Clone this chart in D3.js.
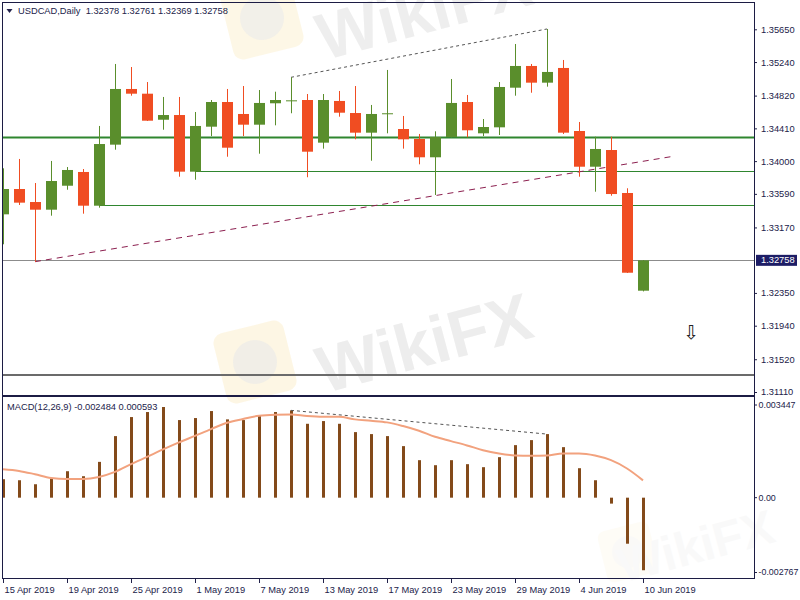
<!DOCTYPE html>
<html>
<head>
<meta charset="utf-8">
<script src="https://cdn.jsdelivr.net/npm/d3@7"></script>
<style>
  body { margin: 0; background: #fff; }
  svg { display: block; }
  text { font-family: "Liberation Sans", Tahoma, Arial, sans-serif; font-size: 9.3px; fill: #22224a; }
</style>
</head>
<body>
<div id="chart"></div>
<script>
// ---- data ----
var dates = ["15 Apr 2019","16 Apr 2019","17 Apr 2019","18 Apr 2019","19 Apr 2019","22 Apr 2019","23 Apr 2019",
  "24 Apr 2019","25 Apr 2019","26 Apr 2019","29 Apr 2019","30 Apr 2019","1 May 2019","2 May 2019","3 May 2019",
  "6 May 2019","7 May 2019","8 May 2019","9 May 2019","10 May 2019","13 May 2019","14 May 2019","15 May 2019",
  "16 May 2019","17 May 2019","20 May 2019","21 May 2019","22 May 2019","23 May 2019","24 May 2019","27 May 2019",
  "28 May 2019","29 May 2019","30 May 2019","31 May 2019","3 Jun 2019","4 Jun 2019","5 Jun 2019","6 Jun 2019",
  "7 Jun 2019","10 Jun 2019"];
var opens  = [1.33334,1.33651,1.33488,1.33392,1.33692,1.33864,1.33442,1.34206,1.34903,1.34844,1.34518,1.34577,1.33868,1.34431,
  1.34740,1.34590,1.34456,1.34724,1.34759,1.34765,1.34231,1.34753,1.34602,1.34356,1.34596,1.34402,1.34277,1.34048,
  1.34302,1.34740,1.34348,1.34423,1.34919,1.35191,1.34982,1.35166,1.34377,1.33930,1.34139,1.33601,1.32378];
var highs  = [1.33910,1.34027,1.33726,1.34002,1.33926,1.33901,1.34440,1.35216,1.35178,1.34990,1.34803,1.34803,1.34615,1.34765,
  1.34903,1.34940,1.34890,1.34869,1.35049,1.34840,1.34840,1.34878,1.34940,1.34703,1.35141,1.34565,1.34340,1.34373,
  1.35028,1.34828,1.34527,1.34990,1.35466,1.35216,1.35654,1.35266,1.34490,1.34306,1.34306,1.33660,1.32761];
var lows   = [1.32959,1.33451,1.32741,1.33317,1.33642,1.33342,1.33417,1.34143,1.34819,1.34502,1.34393,1.33805,1.33767,1.34314,
  1.34055,1.34314,1.34093,1.34448,1.34599,1.33798,1.34156,1.34556,1.34273,1.34005,1.34348,1.34156,1.33960,1.33576,
  1.34296,1.34298,1.34314,1.34327,1.34819,1.34856,1.34932,1.34340,1.33805,1.33617,1.33567,1.32600,1.32369];
var closes = [1.33651,1.33480,1.33392,1.33751,1.33889,1.33442,1.34214,1.34903,1.34844,1.34506,1.34577,1.33868,1.34440,1.34740,
  1.34168,1.34456,1.34728,1.34765,1.34761,1.34118,1.34765,1.34606,1.34356,1.34590,1.34599,1.34273,1.34048,1.34302,
  1.34728,1.34386,1.34427,1.34928,1.35191,1.34982,1.35116,1.34356,1.33930,1.34152,1.33588,1.32603,1.32758];

var macdHist = [0.000632,0.000597,0.000460,0.000656,0.000906,0.000735,0.001226,0.002108,0.002760,0.002932,0.003104,0.002657,
  0.002726,0.002966,0.002681,0.002657,0.002795,0.002932,0.002990,0.002530,0.002623,0.002530,0.002245,0.002177,0.002108,
  0.001765,0.001284,0.001112,0.001284,0.001147,0.001044,0.001387,0.001799,0.001971,0.002177,0.001730,0.001009,0.000597,
  -0.000203,-0.001576,-0.002484];
var macdSignal = [0.000975,0.000917,0.000803,0.000676,0.000642,0.000642,0.000711,0.000882,0.001147,0.001397,0.001651,0.001892,
  0.002118,0.002348,0.002565,0.002692,0.002805,0.002839,0.002846,0.002795,0.002771,0.002771,0.002681,0.002633,0.002578,
  0.002451,0.002290,0.002084,0.001936,0.001789,0.001627,0.001514,0.001445,0.001432,0.001445,0.001514,0.001514,0.001445,
  0.001284,0.000999,0.000593];

var priceTicks = [1.35650,1.35240,1.34820,1.34410,1.34000,1.33590,1.33170,1.32350,1.31940,1.31520,1.31110];
var macdTicks = [0.003447, 0, -0.002767];
var dateTickBars = [0,4,8,12,16,20,24,28,32,36,40];

// drawn objects on the price chart
var levelPrices = [1.34302, 1.33876, 1.33451];   // horizontal green levels
var levelStartBars = [null, 12, 6];              // null = whole width
var currentPrice = 1.32758;
var lowerLinePrice = 1.31323;
var trendStart = [2, 1.32741], trendEnd = [42, 1.34064];
var peakBars = [18, 34];
var arrowAt = [43, 1.31861];

// ---- layout ----
var W = 800, H = 600;
var left = 3, right = 754, mainTop = 3, mainBottom = 395, macdTop = 397, macdBottom = 579;

var svg = d3.select("#chart").append("svg").attr("width", W).attr("height", H);

var x = d3.scaleLinear().domain([0, 40]).range([3, 643]);
var y = d3.scaleLinear().domain([1.31110, 1.35650]).range([392, 29.3]);
var ym = d3.scaleLinear().domain([-0.002767, 0.003447]).range([578.5, 397]);

var defs = svg.append("defs");
defs.append("clipPath").attr("id", "clipMain").append("rect")
  .attr("x", left).attr("y", mainTop).attr("width", right - left).attr("height", mainBottom - mainTop);
defs.append("clipPath").attr("id", "clipMacd").append("rect")
  .attr("x", left).attr("y", macdTop).attr("width", right - left).attr("height", macdBottom - macdTop);

// faint watermarks
function watermark(cx, cy, lx, ly, size, op) {
  var g = svg.append("g").attr("opacity", op);
  var s = size / 66;
  g.append("rect").attr("x", lx - 36 * s).attr("y", ly - 36 * s).attr("width", 72 * s).attr("height", 72 * s)
    .attr("rx", 10 * s).attr("fill", "#fbe7ad").attr("opacity", 0.4)
    .attr("transform", "rotate(-14," + lx + "," + ly + ")");
  g.append("circle").attr("cx", lx).attr("cy", ly).attr("r", 22 * s).attr("fill", "#e4e4e4").attr("opacity", 0.6);
  g.append("text").attr("x", cx).attr("y", cy).attr("text-anchor", "middle")
    .attr("transform", "rotate(-15," + cx + "," + cy + ")")
    .style("font-size", size + "px").style("font-weight", "bold").style("fill", "#e9e9e9")
    .text("WikiFX");
}
watermark(430, 32, 262, 18, 66, 0.75);
watermark(430, 365, 255, 362, 66, 0.8);
watermark(700, 562, 628, 552, 48, 0.25);

// ---- price panel ----
var main = svg.append("g").attr("clip-path", "url(#clipMain)");

// levels
levelPrices.forEach(function (p, k) {
  var x0 = levelStartBars[k] === null ? left : x(levelStartBars[k]);
  main.append("line")
    .attr("x1", x0).attr("x2", right)
    .attr("y1", Math.round(y(p)) + 0.5).attr("y2", Math.round(y(p)) + 0.5)
    .attr("stroke", "#2f862f").attr("stroke-width", k === 0 ? 2.2 : 1);
});
main.append("line").attr("x1", left).attr("x2", right)
  .attr("y1", Math.round(y(currentPrice)) + 0.5).attr("y2", Math.round(y(currentPrice)) + 0.5)
  .attr("stroke", "#8c8c8c").attr("stroke-width", 1);
main.append("line").attr("x1", left).attr("x2", right)
  .attr("y1", y(lowerLinePrice)).attr("y2", y(lowerLinePrice))
  .attr("stroke", "#6b6b6b").attr("stroke-width", 2);

// trend lines
main.append("line")
  .attr("x1", x(trendStart[0])).attr("y1", y(trendStart[1]))
  .attr("x2", x(trendEnd[0])).attr("y2", y(trendEnd[1]))
  .attr("stroke", "#8c1f4f").attr("stroke-width", 1).attr("stroke-dasharray", "6,5");
main.append("line")
  .attr("x1", x(peakBars[0])).attr("y1", y(highs[peakBars[0]]))
  .attr("x2", x(peakBars[1])).attr("y2", y(highs[peakBars[1]]))
  .attr("stroke", "#555").attr("stroke-width", 1).attr("stroke-dasharray", "3,3");

// candles
var bars = dates.map(function (d, i) {
  return { i: i, o: opens[i], h: highs[i], l: lows[i], c: closes[i] };
});
var up = "#5a8e2c", down = "#f04d22";
main.selectAll("line.wick").data(bars).join("line")
  .attr("class", "wick")
  .attr("x1", function (d) { return x(d.i) + 0.5; })
  .attr("x2", function (d) { return x(d.i) + 0.5; })
  .attr("y1", function (d) { return y(d.h); })
  .attr("y2", function (d) { return y(d.l); })
  .attr("stroke", function (d) { return d.c >= d.o ? up : down; });
main.selectAll("rect.body").data(bars).join("rect")
  .attr("class", "body")
  .attr("x", function (d) { return x(d.i) - 5; })
  .attr("width", 11)
  .attr("y", function (d) { return y(Math.max(d.o, d.c)); })
  .attr("height", function (d) { return Math.max(1, Math.abs(y(d.o) - y(d.c))); })
  .attr("fill", function (d) { return d.c >= d.o ? up : down; });

// arrow object
main.append("text")
  .attr("x", x(arrowAt[0])).attr("y", y(arrowAt[1]))
  .attr("text-anchor", "middle").attr("dominant-baseline", "central")
  .style("font-family", "'DejaVu Sans'").style("font-size", "19px").style("fill", "#222")
  .text("\u21E9");

// title
svg.append("path").attr("d", "M6.5,9 L12.5,9 L9.5,13 Z").attr("fill", "#22224a");
svg.append("text").attr("x", 18).attr("y", 14).attr("xml:space", "preserve")
  .text("USDCAD,Daily  " + [opens, highs, lows, closes].map(function (a) { return a[a.length - 1].toFixed(5); }).join(" "));

// price axis
var yAxis = svg.append("g").attr("transform", "translate(" + right + ",0)")
  .call(d3.axisRight(y).tickValues(priceTicks).tickSize(3).tickPadding(4).tickFormat(d3.format(".5f")));
yAxis.select(".domain").remove();
yAxis.selectAll("line").attr("stroke", "#22224a");
yAxis.selectAll("text").attr("fill", null).style("font-size", "9.3px");

// current price marker
svg.append("rect").attr("x", 756).attr("y", y(currentPrice) - 5.5).attr("width", 41).attr("height", 11)
  .attr("fill", "#1d1d66");
svg.append("text").attr("x", 761).attr("y", y(currentPrice)).attr("dy", "0.33em")
  .style("fill", "#fff").text(currentPrice.toFixed(5));

// ---- MACD panel ----
var macd = svg.append("g").attr("clip-path", "url(#clipMacd)");
macd.selectAll("rect.hist").data(macdHist).join("rect")
  .attr("class", "hist")
  .attr("x", function (d, i) { return x(i) - 1; })
  .attr("width", 3)
  .attr("y", function (d) { return ym(Math.max(0, d)); })
  .attr("height", function (d) { return Math.abs(ym(d) - ym(0)); })
  .attr("fill", "#834a1a");
macd.append("path").datum(macdSignal)
  .attr("d", d3.line().x(function (d, i) { return x(i); }).y(function (d) { return ym(d); }).curve(d3.curveMonotoneX))
  .attr("fill", "none").attr("stroke", "#f2a27e").attr("stroke-width", 2);
macd.append("line")
  .attr("x1", x(peakBars[0])).attr("y1", ym(macdHist[peakBars[0]]))
  .attr("x2", x(peakBars[1])).attr("y2", ym(macdHist[peakBars[1]]))
  .attr("stroke", "#555").attr("stroke-width", 1).attr("stroke-dasharray", "3,3");

svg.append("text").attr("x", 7).attr("y", 410)
  .text("MACD(12,26,9) " + macdHist[macdHist.length - 1].toFixed(6) + " " + macdSignal[macdSignal.length - 1].toFixed(6));

var mAxis = svg.append("g").attr("transform", "translate(" + right + ",0)")
  .call(d3.axisRight(ym).tickValues(macdTicks).tickSize(3).tickPadding(1.5)
    .tickFormat(function (d) { return d === 0 ? "0.00" : d.toFixed(6); }));
mAxis.select(".domain").remove();
mAxis.selectAll(".tick").attr("transform", function (d) {
  return "translate(0," + (ym(d) + (d > 0 ? 8 : d < 0 ? -6 : 0)) + ")";
});
mAxis.selectAll("line").attr("stroke", "#22224a");
mAxis.selectAll("text").attr("fill", null).style("font-size", "8.9px");

// time axis
var xAxis = svg.append("g").attr("transform", "translate(0," + macdBottom + ")")
  .call(d3.axisBottom(x).tickValues(dateTickBars).tickSize(4).tickPadding(3)
    .tickFormat(function (i) { return dates[i]; }));
xAxis.select(".domain").remove();
xAxis.selectAll("line").attr("stroke", "#22224a");
xAxis.selectAll("text").attr("fill", null).attr("text-anchor", "start").attr("x", 1).style("font-size", "9.3px");

// frames
svg.append("rect").attr("x", left - 0.5).attr("y", mainTop - 0.5)
  .attr("width", right - left + 1).attr("height", mainBottom - mainTop + 1)
  .attr("fill", "none").attr("stroke", "#1c1c44");
svg.append("rect").attr("x", left - 0.5).attr("y", macdTop - 0.5)
  .attr("width", right - left + 1).attr("height", macdBottom - macdTop)
  .attr("fill", "none").attr("stroke", "#1c1c44");
</script>
</body>
</html>
